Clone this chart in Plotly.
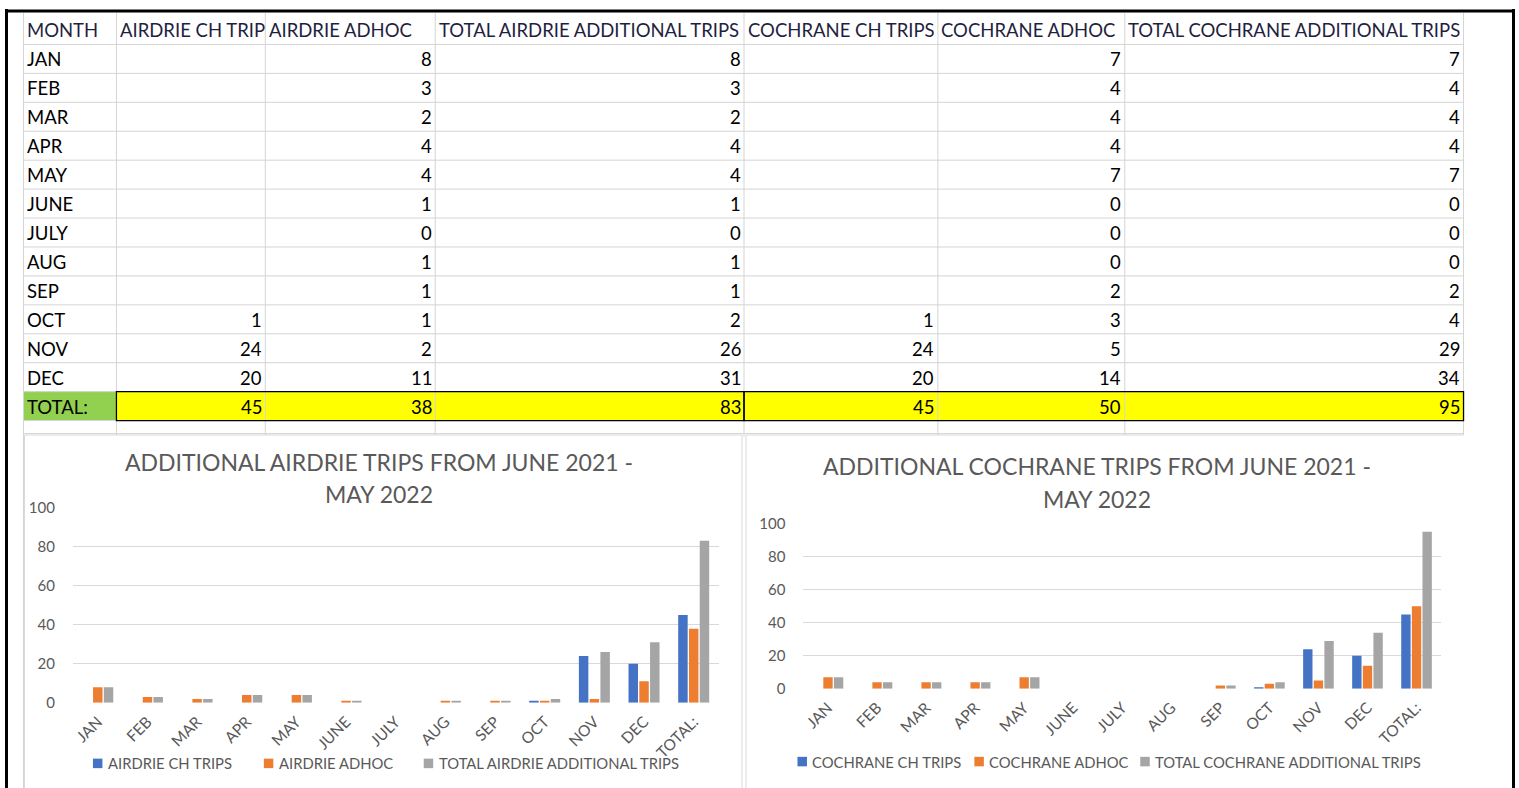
import plotly.graph_objects as go

# ---------------- data ----------------
months = ["JAN", "FEB", "MAR", "APR", "MAY", "JUNE", "JULY", "AUG", "SEP", "OCT", "NOV", "DEC"]
total_label = "TOTAL:"
table_headers = ["MONTH", "AIRDRIE CH TRIP", "AIRDRIE ADHOC", "TOTAL AIRDRIE ADDITIONAL TRIPS",
                 "COCHRANE CH TRIPS", "COCHRANE ADHOC", "TOTAL COCHRANE ADDITIONAL TRIPS"]

airdrie_ch = [None, None, None, None, None, None, None, None, None, 1, 24, 20]
airdrie_adhoc = [8, 3, 2, 4, 4, 1, 0, 1, 1, 1, 2, 11]
airdrie_total = [8, 3, 2, 4, 4, 1, 0, 1, 1, 2, 26, 31]
cochrane_ch = [None, None, None, None, None, None, None, None, None, 1, 24, 20]
cochrane_adhoc = [7, 4, 4, 4, 7, 0, 0, 0, 2, 3, 5, 14]
cochrane_total = [7, 4, 4, 4, 7, 0, 0, 0, 2, 4, 29, 34]
totals_row = [45, 38, 83, 45, 50, 95]

airdrie_names = ["AIRDRIE CH TRIPS", "AIRDRIE ADHOC", "TOTAL AIRDRIE ADDITIONAL TRIPS"]
cochrane_names = ["COCHRANE CH TRIPS", "COCHRANE ADHOC", "TOTAL COCHRANE ADDITIONAL TRIPS"]
airdrie_title = ["ADDITIONAL AIRDRIE TRIPS FROM JUNE 2021 -", "MAY 2022"]
cochrane_title = ["ADDITIONAL COCHRANE TRIPS FROM JUNE 2021 -", "MAY 2022"]
y_ticks = [0, 20, 40, 60, 80, 100]

# ---------------- style ----------------
W, H = 1519, 788
FONT = "Lato"
COLORS = ["#4472C4", "#ED7D31", "#A5A5A5"]
GRID = "#D9D9D9"
TXT = "#595959"
TABLE_SIZE = 18.5
TITLE_SIZE = 23
TICK_SIZE = 15
XTICK_SIZE = 15.5
LEG_SIZE = 14.8
# vertical compensation for the capture (measured)
VS, VO = 0.976, 10.0


def px(x):
    return x / W


def py(y):
    return 1 - ((y - VO) / VS) / H


fig = go.Figure()
shapes = []
annotations = []

# ---------------- table ----------------
col_edges = [22, 115, 264, 434, 743, 937, 1124, 1463]
row_top = 15
row_h = 28.9
n_rows = 1 + len(months) + 1
row_edges = [row_top + i * row_h for i in range(n_rows + 1)]

# fills for TOTAL row
ty0, ty1 = row_edges[-2], row_edges[-1]
shapes.append(dict(type="rect", xref="paper", yref="paper", layer="below",
                   x0=px(col_edges[0]), x1=px(col_edges[1]), y0=py(ty1), y1=py(ty0),
                   fillcolor="#92D050", line=dict(width=0)))
shapes.append(dict(type="rect", xref="paper", yref="paper", layer="below",
                   x0=px(col_edges[1]), x1=px(col_edges[-1]), y0=py(ty1), y1=py(ty0),
                   fillcolor="#FFFF00", line=dict(width=0)))

# gridlines
for xe in col_edges:
    shapes.append(dict(type="line", xref="paper", yref="paper", layer="below",
                       x0=px(xe + 0.5), x1=px(xe + 0.5), y0=py(row_top - 2), y1=py(436),
                       line=dict(color="#D4D4D4", width=1)))
shapes.append(dict(type="line", xref="paper", yref="paper", layer="below",
                   x0=px(22.5), x1=px(22.5), y0=py(436), y1=py(H + 20),
                   line=dict(color="#D4D4D4", width=1)))
for ye in row_edges[1:] + [row_edges[-1] + 13]:
    shapes.append(dict(type="line", xref="paper", yref="paper", layer="below",
                       x0=px(col_edges[0]), x1=px(col_edges[-1]), y0=py(ye + 0.5), y1=py(ye + 0.5),
                       line=dict(color="#D4D4D4", width=1)))

# black borders around TOTAL values (two groups)
for gx0, gx1 in [(col_edges[1], col_edges[4]), (col_edges[4], col_edges[7])]:
    shapes.append(dict(type="rect", xref="paper", yref="paper", layer="above",
                       x0=px(gx0 + 0.5), x1=px(gx1 + 0.5), y0=py(ty1 + 0.5), y1=py(ty0 + 0.5),
                       fillcolor="rgba(0,0,0,0)", line=dict(color="#000000", width=1.3)))

# header text
for i, htxt in enumerate(table_headers):
    annotations.append(dict(x=px(col_edges[i] + 2), y=py(row_edges[0] + row_h / 2 + 1),
                            xref="paper", yref="paper", text=htxt, showarrow=False,
                            xanchor="left", yanchor="middle",
                            font=dict(family=FONT, size=TABLE_SIZE, color="#1F1F3F")))

table_cols = [airdrie_ch, airdrie_adhoc, airdrie_total, cochrane_ch, cochrane_adhoc, cochrane_total]
for r, m in enumerate(months):
    yc = py(row_edges[r + 1] + row_h / 2 + 1)
    annotations.append(dict(x=px(col_edges[0] + 2), y=yc, xref="paper", yref="paper", text=m,
                            showarrow=False, xanchor="left", yanchor="middle",
                            font=dict(family=FONT, size=TABLE_SIZE, color="#000000")))
    for c, col in enumerate(table_cols):
        v = col[r]
        if v is None:
            continue
        annotations.append(dict(x=px(col_edges[c + 2] - 1), y=yc, xref="paper", yref="paper",
                                text=str(v), showarrow=False, xanchor="right", yanchor="middle",
                                font=dict(family=FONT, size=TABLE_SIZE, color="#000000")))
yc = py(row_edges[-2] + row_h / 2 + 1)
annotations.append(dict(x=px(col_edges[0] + 2), y=yc, xref="paper", yref="paper", text=total_label,
                        showarrow=False, xanchor="left", yanchor="middle",
                        font=dict(family=FONT, size=TABLE_SIZE, color="#000000")))
for c, v in enumerate(totals_row):
    annotations.append(dict(x=px(col_edges[c + 2] - 1), y=yc, xref="paper", yref="paper",
                            text=str(v), showarrow=False, xanchor="right", yanchor="middle",
                            font=dict(family=FONT, size=TABLE_SIZE, color="#000000")))

# ---------------- chart boxes ----------------
# left chart: full light border; right chart: white area with top/left edges only
shapes.append(dict(type="rect", xref="paper", yref="paper", layer="below",
                   x0=px(23.5), x1=px(741.5), y0=py(820), y1=py(434.5),
                   fillcolor="#FFFFFF", line=dict(color=GRID, width=1)))
shapes.append(dict(type="rect", xref="paper", yref="paper", layer="below",
                   x0=px(745.5), x1=px(1512), y0=py(820), y1=py(434.5),
                   fillcolor="#FFFFFF", line=dict(width=0)))
shapes.append(dict(type="line", xref="paper", yref="paper", layer="below",
                   x0=px(745.5), x1=px(1463.5), y0=py(434.5), y1=py(434.5),
                   line=dict(color=GRID, width=1)))
shapes.append(dict(type="line", xref="paper", yref="paper", layer="below",
                   x0=px(745.5), x1=px(745.5), y0=py(434.5), y1=py(820),
                   line=dict(color=GRID, width=1)))

# ---------------- bar charts ----------------
categories = months + [total_label]
charts = [
    dict(series=[airdrie_ch + [totals_row[0]], airdrie_adhoc + [totals_row[1]], airdrie_total + [totals_row[2]]],
         names=airdrie_names, title=airdrie_title, xa="x", ya="y",
         xdom=(72, 718), ydom=(507, 702), tcx=378, tcy=(461, 493),
         leg_x=[92, 263, 423], leg_y=762.5),
    dict(series=[cochrane_ch + [totals_row[3]], cochrane_adhoc + [totals_row[4]], cochrane_total + [totals_row[5]]],
         names=cochrane_names, title=cochrane_title, xa="x2", ya="y2",
         xdom=(803, 1441), ydom=(523, 688), tcx=1097, tcy=(465, 498),
         leg_x=[797, 974, 1140], leg_y=760.7),
]

for ch in charts:
    for s, name, col in zip(ch["series"], ch["names"], COLORS):
        fig.add_trace(go.Bar(x=categories, y=s, name=name, marker=dict(color=col, line=dict(width=0)),
                             xaxis=ch["xa"], yaxis=ch["ya"], showlegend=False))
    for line_txt, ty in zip(ch["title"], ch["tcy"]):
        annotations.append(dict(x=px(ch["tcx"]), y=py(ty), xref="paper", yref="paper", text=line_txt,
                                showarrow=False, xanchor="center", yanchor="middle",
                                font=dict(family=FONT, size=TITLE_SIZE, color=TXT)))
    for lx, name, col in zip(ch["leg_x"], ch["names"], COLORS):
        shapes.append(dict(type="rect", xref="paper", yref="paper", layer="above",
                           x0=px(lx), x1=px(lx + 9.5), y0=py(ch["leg_y"] + 4.75), y1=py(ch["leg_y"] - 4.75),
                           fillcolor=col, line=dict(width=0)))
        annotations.append(dict(x=px(lx + 13), y=py(ch["leg_y"]), xref="paper", yref="paper", text=name,
                                showarrow=False, xanchor="left", yanchor="middle",
                                font=dict(family=FONT, size=LEG_SIZE, color=TXT)))

axis_common = dict(showline=False, zeroline=False)
layout_axes = {}
for ch in charts:
    xkey = "xaxis" if ch["xa"] == "x" else "xaxis2"
    ykey = "yaxis" if ch["ya"] == "y" else "yaxis2"
    layout_axes[xkey] = dict(domain=[px(ch["xdom"][0]), px(ch["xdom"][1])], anchor=ch["ya"],
                             type="category", tickangle=-45, showgrid=False, ticks="",
                             ticklabelstandoff=6,
                             tickfont=dict(family=FONT, size=XTICK_SIZE, color=TXT), **axis_common)
    layout_axes[ykey] = dict(domain=[py(ch["ydom"][1]), py(ch["ydom"][0])], anchor=ch["xa"],
                             range=[0, 100], tickvals=y_ticks, showgrid=True, gridcolor=GRID, gridwidth=1,
                             ticks="", ticklabelstandoff=17,
                             tickfont=dict(family=FONT, size=TICK_SIZE, color=TXT), **axis_common)

# outer black frame
shapes.append(dict(type="line", xref="paper", yref="paper", layer="above",
                   x0=px(5.5), x1=px(5.5), y0=py(9), y1=py(H + 30), line=dict(color="#000000", width=3)))
shapes.append(dict(type="line", xref="paper", yref="paper", layer="above",
                   x0=px(4), x1=px(1515), y0=py(11), y1=py(11), line=dict(color="#000000", width=3)))
shapes.append(dict(type="line", xref="paper", yref="paper", layer="above",
                   x0=px(1513.5), x1=px(1513.5), y0=py(9), y1=py(H + 30), line=dict(color="#000000", width=3)))

fig.update_layout(
    width=W, height=H, margin=dict(l=0, r=0, t=0, b=0, pad=0),
    paper_bgcolor="#FFFFFF", plot_bgcolor="rgba(0,0,0,0)",
    barmode="group", bargap=0.35, bargroupgap=0.12,
    shapes=shapes, annotations=annotations, showlegend=False,
    font=dict(family=FONT, color=TXT),
    **layout_axes,
)

fig.write_html(
    "out.html",
    config={"displayModeBar": False, "staticPlot": True},
    post_script=(
        "document.documentElement.style.margin='0';"
        "document.body.style.margin='0';"
        "document.body.style.overflow='hidden';"
        "document.documentElement.style.overflow='hidden';"
        "var gd=document.getElementById('{plot_id}');"
        "gd.style.position='fixed';gd.style.top='0px';gd.style.left='0px';"
    ),
)
